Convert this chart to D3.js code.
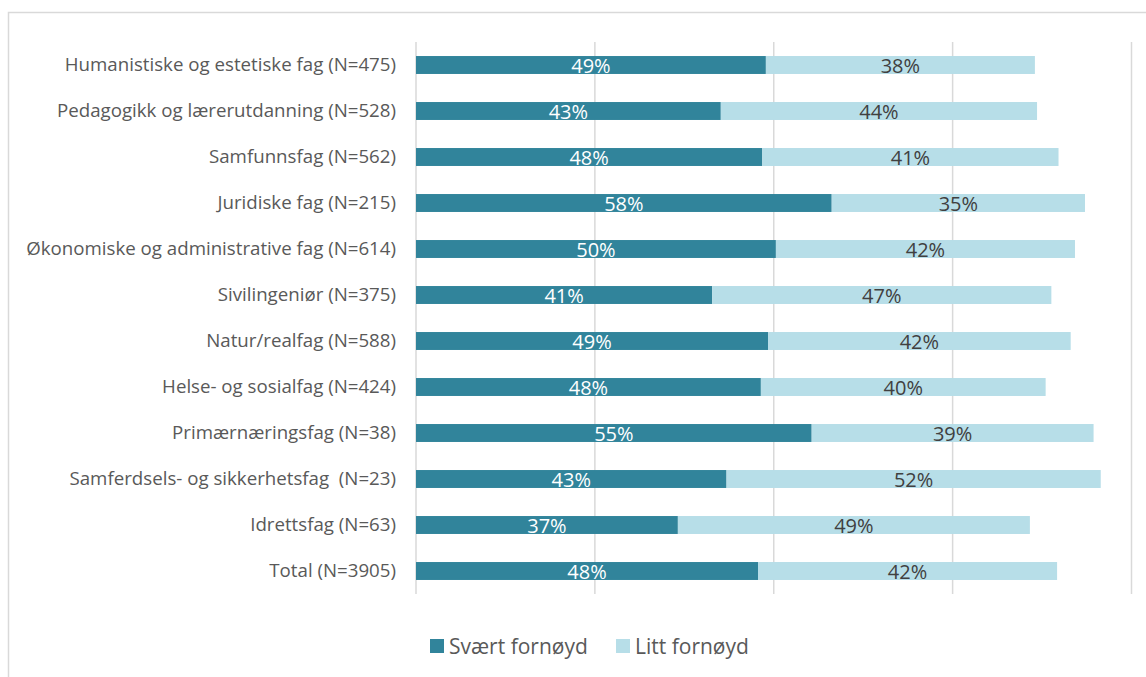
<!DOCTYPE html>
<html>
<head>
<meta charset="utf-8">
<script src="https://cdn.jsdelivr.net/npm/d3@7"></script>
<style>
  body { margin: 0; background: #fff; }
  text { font-family: "Open Sans", sans-serif; }
</style>
</head>
<body>
<div id="chart"></div>
<script>
var categories = [
  "Humanistiske og estetiske fag (N=475)",
  "Pedagogikk og lærerutdanning (N=528)",
  "Samfunnsfag (N=562)",
  "Juridiske fag (N=215)",
  "Økonomiske og administrative fag (N=614)",
  "Sivilingeniør (N=375)",
  "Natur/realfag (N=588)",
  "Helse- og sosialfag (N=424)",
  "Primærnæringsfag (N=38)",
  "Samferdsels- og sikkerhetsfag  (N=23)",
  "Idrettsfag (N=63)",
  "Total (N=3905)"
];
// shares in percent (labels show them rounded)
var svaert = [48.9, 42.6, 48.4, 58.1, 50.3, 41.4, 49.2, 48.2, 55.3, 43.4, 36.6, 47.8];
var litt   = [37.6, 44.2, 41.4, 35.4, 41.8, 47.4, 42.3, 39.8, 39.4, 52.3, 49.2, 41.8];
var seriesNames = ["Svært fornøyd", "Litt fornøyd"];
var xTicks = [0, 25, 50, 75, 100];

var W = 1146, H = 677;
var colors = ["#31849B", "#B7DEE8"];
var labelColors = ["#ffffff", "#404040"];

var svg = d3.select("#chart").append("svg")
  .attr("width", W).attr("height", H);

// chart frame
svg.append("rect")
  .attr("x", 8.5).attr("y", 12.5)
  .attr("width", W + 10).attr("height", H + 10)
  .attr("fill", "none").attr("stroke", "#d9d9d9").attr("stroke-width", 1.5);

var x = d3.scaleLinear().domain([0, 100]).range([416, 1131.5]);
var y = d3.scaleBand().domain(categories).range([42, 594]).paddingInner(0.61).paddingOuter(0.305);

// gridlines
svg.append("g").selectAll("line")
  .data(xTicks).enter().append("line")
  .attr("x1", d => x(d)).attr("x2", d => x(d))
  .attr("y1", 42).attr("y2", 594)
  .attr("stroke", "#d9d9d9").attr("stroke-width", 1.5);

var rows = categories.map((c, i) => ({ cat: c, vals: [svaert[i], litt[i]] }));

var stack = rows.map(r => {
  var acc = 0;
  return r.vals.map((v, j) => {
    var seg = { cat: r.cat, j: j, v: v, x0: acc, x1: acc + v };
    acc += v;
    return seg;
  });
});

var g = svg.append("g");
stack.forEach(segs => {
  g.selectAll(null).data(segs).enter().append("rect")
    .attr("x", d => x(d.x0))
    .attr("y", d => y(d.cat))
    .attr("width", d => x(d.x1) - x(d.x0))
    .attr("height", y.bandwidth())
    .attr("fill", d => colors[d.j]);
  g.selectAll(null).data(segs).enter().append("text")
    .attr("x", d => (x(d.x0) + x(d.x1)) / 2)
    .attr("y", d => y(d.cat) + y.bandwidth() / 2 + 8)
    .attr("text-anchor", "middle")
    .attr("font-size", 20)
    .attr("fill", d => labelColors[d.j])
    .text(d => Math.round(d.v) + "%");
});

// category labels
var yAxis = svg.append("g").attr("transform", "translate(416,0)")
  .call(d3.axisLeft(y).tickSize(0).tickPadding(20));
yAxis.select(".domain").remove();
yAxis.selectAll("text")
  .attr("font-size", 18.7)
  .attr("fill", "#595959")
  .style("white-space", "pre")
  .style("font-family", "'Open Sans', sans-serif");

// legend
var legendX = [430, 616];
var leg = svg.append("g").selectAll("g")
  .data(seriesNames).enter().append("g")
  .attr("transform", (d, i) => "translate(" + legendX[i] + ",639)");
leg.append("rect").attr("width", 14).attr("height", 14).attr("fill", (d, i) => colors[i]);
leg.append("text").attr("x", 19).attr("y", 15)
  .attr("font-size", 21).attr("fill", "#595959").text(d => d);
</script>
</body>
</html>
